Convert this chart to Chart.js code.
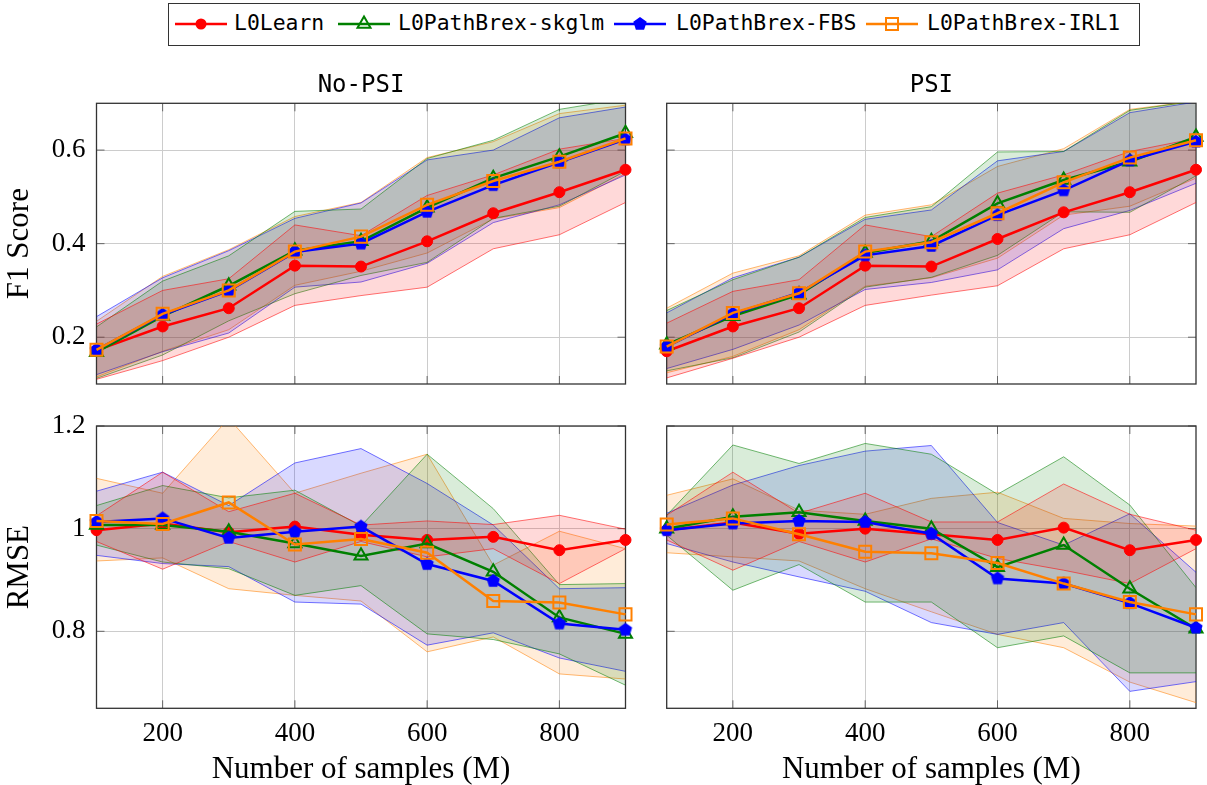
<!DOCTYPE html>
<html>
<head>
<meta charset="utf-8">
<script src="https://cdn.jsdelivr.net/npm/chart.js@4.4.1/dist/chart.umd.min.js"></script>
<style>
  body { margin: 0; background: #fff; width: 1207px; height: 785px; position: relative; overflow: hidden; }
  canvas { position: absolute; }
  #legend { position: absolute; left: 168px; top: 3px; width: 972px; height: 43px; border: 1.5px solid #333; box-sizing: border-box; }
  #legend span { position: absolute; top: 6px; font: 21.4px "DejaVu Sans Mono", monospace; color: #000; }
  #legend svg { position: absolute; top: 10px; }
</style>
</head>
<body>
<div id="legend"></div>
<canvas id="f1NoPsi" width="636" height="340" style="left:0;top:55px"></canvas>
<canvas id="f1Psi" width="637" height="340" style="left:570px;top:55px"></canvas>
<canvas id="rmseNoPsi" width="636" height="390" style="left:0;top:395px"></canvas>
<canvas id="rmsePsi" width="637" height="390" style="left:570px;top:395px"></canvas>
<script>
const samples = [100, 200, 300, 400, 500, 600, 700, 800, 900]
const xTicks = [200, 400, 600, 800]
const f1Ticks = [0.2, 0.4, 0.6]
const rmseTicks = [0.8, 1, 1.2]
const methods = ['L0Learn', 'L0PathBrex-skglm', 'L0PathBrex-FBS', 'L0PathBrex-IRL1']

// F1 score, No-PSI (mean, lower, upper)
const f1NoPsiL0Learn   = [0.172, 0.223, 0.262, 0.353, 0.351, 0.405, 0.465, 0.510, 0.558]
const f1NoPsiL0LearnLo = [0.110, 0.150, 0.200, 0.268, 0.289, 0.307, 0.389, 0.419, 0.488]
const f1NoPsiL0LearnHi = [0.228, 0.300, 0.325, 0.440, 0.417, 0.503, 0.547, 0.602, 0.625]
const f1NoPsiSkglm     = [0.168, 0.245, 0.310, 0.385, 0.405, 0.477, 0.540, 0.586, 0.636]
const f1NoPsiSkglmLo   = [0.112, 0.162, 0.235, 0.293, 0.332, 0.360, 0.454, 0.480, 0.555]
const f1NoPsiSkglmHi   = [0.222, 0.320, 0.374, 0.469, 0.474, 0.582, 0.621, 0.687, 0.710]
const f1NoPsiFbs       = [0.173, 0.248, 0.299, 0.382, 0.400, 0.468, 0.525, 0.574, 0.623]
const f1NoPsiFbsLo     = [0.120, 0.169, 0.209, 0.307, 0.318, 0.358, 0.445, 0.483, 0.547]
const f1NoPsiFbsHi     = [0.244, 0.327, 0.385, 0.454, 0.487, 0.579, 0.600, 0.669, 0.692]
const f1NoPsiIrl1      = [0.173, 0.250, 0.300, 0.383, 0.415, 0.483, 0.534, 0.575, 0.625]
const f1NoPsiIrl1Lo    = [0.115, 0.170, 0.216, 0.311, 0.341, 0.380, 0.453, 0.477, 0.550]
const f1NoPsiIrl1Hi    = [0.234, 0.330, 0.387, 0.458, 0.488, 0.584, 0.618, 0.678, 0.696]

// F1 score, PSI
const f1PsiL0Learn   = [0.170, 0.223, 0.262, 0.353, 0.351, 0.410, 0.467, 0.510, 0.558]
const f1PsiL0LearnLo = [0.113, 0.155, 0.200, 0.268, 0.290, 0.310, 0.389, 0.419, 0.488]
const f1PsiL0LearnHi = [0.230, 0.298, 0.323, 0.440, 0.415, 0.508, 0.547, 0.597, 0.625]
const f1PsiSkglm     = [0.184, 0.245, 0.291, 0.380, 0.405, 0.486, 0.536, 0.575, 0.628]
const f1PsiSkglmLo   = [0.128, 0.156, 0.211, 0.307, 0.328, 0.375, 0.468, 0.467, 0.545]
const f1PsiSkglmHi   = [0.257, 0.323, 0.371, 0.456, 0.479, 0.596, 0.597, 0.685, 0.705]
const f1PsiFbs       = [0.180, 0.250, 0.295, 0.375, 0.395, 0.461, 0.514, 0.578, 0.618]
const f1PsiFbsLo     = [0.133, 0.174, 0.226, 0.302, 0.317, 0.344, 0.432, 0.471, 0.529]
const f1PsiFbsHi     = [0.252, 0.327, 0.371, 0.452, 0.472, 0.577, 0.597, 0.680, 0.703]
const f1PsiIrl1      = [0.180, 0.252, 0.294, 0.383, 0.403, 0.465, 0.531, 0.584, 0.621]
const f1PsiIrl1Lo    = [0.124, 0.159, 0.216, 0.309, 0.327, 0.369, 0.461, 0.480, 0.540]
const f1PsiIrl1Hi    = [0.262, 0.337, 0.374, 0.461, 0.483, 0.565, 0.603, 0.687, 0.705]

// RMSE, No-PSI
const rmseNoPsiL0Learn   = [0.997, 1.010, 0.993, 1.004, 0.988, 0.978, 0.984, 0.958, 0.978]
const rmseNoPsiL0LearnLo = [0.975, 0.921, 0.975, 0.935, 0.975, 0.945, 0.961, 0.893, 0.961]
const rmseNoPsiL0LearnHi = [1.025, 1.110, 1.033, 1.069, 1.007, 1.015, 1.008, 1.026, 0.999]
const rmseNoPsiSkglm     = [1.007, 1.007, 0.994, 0.971, 0.947, 0.971, 0.916, 0.827, 0.795]
const rmseNoPsiSkglmLo   = [0.968, 0.935, 0.922, 0.870, 0.889, 0.795, 0.784, 0.756, 0.695]
const rmseNoPsiSkglmHi   = [1.045, 1.084, 1.060, 1.075, 1.005, 1.145, 1.039, 0.891, 0.893]
const rmseNoPsiFbs       = [1.013, 1.020, 0.982, 0.994, 1.004, 0.931, 0.898, 0.815, 0.803]
const rmseNoPsiFbsLo     = [0.948, 0.932, 0.926, 0.857, 0.853, 0.773, 0.797, 0.748, 0.722]
const rmseNoPsiFbsHi     = [1.073, 1.110, 1.045, 1.128, 1.156, 1.088, 1.007, 0.883, 0.885]
const rmseNoPsiIrl1      = [1.015, 1.009, 1.051, 0.969, 0.980, 0.953, 0.859, 0.856, 0.833]
const rmseNoPsiIrl1Lo    = [0.937, 0.943, 0.883, 0.870, 0.859, 0.760, 0.789, 0.717, 0.707]
const rmseNoPsiIrl1Hi    = [1.098, 1.069, 1.215, 1.069, 1.108, 1.145, 0.929, 0.995, 0.961]

// RMSE, PSI
const rmsePsiL0Learn   = [0.997, 1.012, 0.990, 1.000, 0.989, 0.978, 1.002, 0.958, 0.978]
const rmsePsiL0LearnLo = [0.978, 0.919, 0.975, 0.935, 0.980, 0.942, 0.919, 0.893, 0.961]
const rmsePsiL0LearnHi = [1.026, 1.110, 1.030, 1.069, 1.013, 1.013, 1.087, 1.028, 0.997]
const rmsePsiSkglm     = [1.000, 1.023, 1.032, 1.015, 1.000, 0.925, 0.968, 0.883, 0.805]
const rmsePsiSkglmLo   = [0.987, 0.880, 0.930, 0.857, 0.857, 0.768, 0.791, 0.719, 0.719]
const rmsePsiSkglmHi   = [1.026, 1.163, 1.127, 1.166, 1.145, 1.067, 1.140, 1.046, 0.885]
const rmsePsiFbs       = [0.997, 1.010, 1.015, 1.013, 0.990, 0.903, 0.893, 0.855, 0.807]
const rmsePsiFbsLo     = [0.971, 0.935, 0.906, 0.878, 0.817, 0.794, 0.817, 0.683, 0.702]
const rmsePsiFbsHi     = [1.030, 1.085, 1.123, 1.151, 1.162, 1.012, 0.968, 1.029, 0.915]
const rmsePsiIrl1      = [1.008, 1.020, 0.989, 0.955, 0.952, 0.933, 0.893, 0.857, 0.833]
const rmsePsiIrl1Lo    = [0.953, 0.945, 0.937, 0.883, 0.838, 0.794, 0.768, 0.701, 0.661]
const rmsePsiIrl1Hi    = [1.065, 1.097, 1.036, 1.028, 1.059, 1.071, 1.020, 1.010, 1.005]

const colors = ['255,0,0', '0,128,0', '0,0,255', '255,128,0']

// blue pentagon marker (no built-in pentagon point style)
function pentagon(r, color) {
  const c = document.createElement('canvas')
  c.width = c.height = 2 * r + 2
  const ctx = c.getContext('2d')
  ctx.beginPath()
  for (let i = 0; i < 5; i++) {
    const a = -Math.PI / 2 + i * 2 * Math.PI / 5
    ctx.lineTo(r + 1 + r * Math.cos(a), r + 1 + r * Math.sin(a))
  }
  ctx.closePath()
  ctx.fillStyle = color
  ctx.fill()
  return c
}

const markers = [
  { pointStyle: 'circle', pointRadius: 5.5, pointBackgroundColor: 'rgb(255,0,0)', pointBorderWidth: 1 },
  { pointStyle: 'triangle', pointRadius: 7.5, pointBackgroundColor: 'rgba(0,0,0,0)', pointBorderWidth: 2 },
  { pointStyle: pentagon(7, 'rgb(0,0,255)'), pointRadius: 7 },
  { pointStyle: 'rect', pointRadius: 8.5, pointBackgroundColor: 'rgba(0,0,0,0)', pointBorderWidth: 2 }
]

const pts = vals => samples.map((x, j) => ({ x, y: vals[j] }))

function buildDatasets(means, los, his) {
  const ds = []
  means.forEach((m, i) => {
    ds.push({ data: pts(los[i]), borderColor: `rgba(${colors[i]},0.55)`, borderWidth: 1, pointRadius: 0, fill: false, order: 10 + i })
    ds.push({ data: pts(his[i]), borderColor: `rgba(${colors[i]},0.55)`, backgroundColor: `rgba(${colors[i]},0.15)`, borderWidth: 1, pointRadius: 0, fill: '-1', order: 10 + i })
  })
  means.forEach((m, i) => {
    ds.push({ label: methods[i], data: pts(m), borderColor: `rgb(${colors[i]})`, pointBorderColor: `rgb(${colors[i]})`, borderWidth: 2.5, fill: false, clip: false, order: 4 - i, ...markers[i] })
  })
  return ds
}

// box around the plot area plus small inner tick marks
const framePlugin = {
  id: 'frame',
  beforeDatasetsDraw(chart) {
    const { ctx, chartArea: a, scales: { x, y } } = chart
    ctx.save()
    ctx.strokeStyle = '#666'
    ctx.lineWidth = 1
    ctx.beginPath()
    x.ticks.forEach(t => {
      const px = x.getPixelForValue(t.value)
      ctx.moveTo(px, a.top); ctx.lineTo(px, a.top + 8)
      ctx.moveTo(px, a.bottom); ctx.lineTo(px, a.bottom - 8)
    })
    y.ticks.forEach(t => {
      const py = y.getPixelForValue(t.value)
      ctx.moveTo(a.left, py); ctx.lineTo(a.left + 8, py)
      ctx.moveTo(a.right, py); ctx.lineTo(a.right - 8, py)
    })
    ctx.stroke()
    ctx.strokeStyle = '#333'
    ctx.lineWidth = 1.3
    ctx.strokeRect(a.left, a.top, a.width, a.height)
    ctx.restore()
  }
}

const tickFont = { family: 'Liberation Serif', size: 27 }
const labelFont = { family: 'Liberation Serif', size: 31, lineHeight: 1 }

function drawPanel(id, o) {
  new Chart(id, {
    type: 'line',
    data: { datasets: buildDatasets(o.means, o.los, o.his) },
    options: {
      responsive: false,
      animation: false,
      layout: { padding: { top: o.padTop, right: o.padRight, left: 0, bottom: 0 } },
      plugins: {
        legend: { display: false },
        tooltip: { enabled: false },
        title: {
          display: !!o.title, text: o.title, fullSize: false, color: '#000',
          font: { family: 'DejaVu Sans Mono', size: 24, weight: 'normal' },
          padding: { top: 16, bottom: 3.5 }
        }
      },
      scales: {
        x: {
          type: 'linear', min: 100, max: 900,
          afterBuildTicks: s => { s.ticks = xTicks.map(value => ({ value })) },
          afterFit: s => { s.height = o.xh; s.paddingLeft = 0; s.paddingRight = 0 },
          grid: { color: '#cccccc', drawTicks: false },
          border: { display: false },
          ticks: { display: o.xLabels, padding: 9, font: tickFont, color: '#000', maxRotation: 0, callback: v => String(v) },
          title: { display: o.xLabels, text: 'Number of samples (M)', font: labelFont, color: '#000', padding: 0 }
        },
        y: {
          min: o.yMin, max: o.yMax,
          afterBuildTicks: s => { s.ticks = o.yTicks.map(value => ({ value })) },
          afterFit: s => { s.width = o.yw; s.paddingTop = 0; s.paddingBottom = 0 },
          grid: { color: '#cccccc', drawTicks: false },
          border: { display: false },
          ticks: { display: !!o.yTitle, padding: 11, font: tickFont, color: '#000', callback: v => String(v) },
          title: { display: !!o.yTitle, text: o.yTitle, font: labelFont, color: '#000', padding: { top: 4, bottom: 0 } }
        }
      }
    },
    plugins: [framePlugin]
  })
}

drawPanel('f1NoPsi', {
  means: [f1NoPsiL0Learn, f1NoPsiSkglm, f1NoPsiFbs, f1NoPsiIrl1],
  los: [f1NoPsiL0LearnLo, f1NoPsiSkglmLo, f1NoPsiFbsLo, f1NoPsiIrl1Lo],
  his: [f1NoPsiL0LearnHi, f1NoPsiSkglmHi, f1NoPsiFbsHi, f1NoPsiIrl1Hi],
  title: 'No-PSI', yTitle: 'F1 Score', yMin: 0.1, yMax: 0.7, yTicks: f1Ticks,
  padTop: 0, padRight: 10, yw: 96.5, xh: 11, xLabels: false
})
drawPanel('f1Psi', {
  means: [f1PsiL0Learn, f1PsiSkglm, f1PsiFbs, f1PsiIrl1],
  los: [f1PsiL0LearnLo, f1PsiSkglmLo, f1PsiFbsLo, f1PsiIrl1Lo],
  his: [f1PsiL0LearnHi, f1PsiSkglmHi, f1PsiFbsHi, f1PsiIrl1Hi],
  title: 'PSI', yTitle: '', yMin: 0.1, yMax: 0.7, yTicks: f1Ticks,
  padTop: 0, padRight: 11, yw: 96.7, xh: 11, xLabels: false
})
drawPanel('rmseNoPsi', {
  means: [rmseNoPsiL0Learn, rmseNoPsiSkglm, rmseNoPsiFbs, rmseNoPsiIrl1],
  los: [rmseNoPsiL0LearnLo, rmseNoPsiSkglmLo, rmseNoPsiFbsLo, rmseNoPsiIrl1Lo],
  his: [rmseNoPsiL0LearnHi, rmseNoPsiSkglmHi, rmseNoPsiFbsHi, rmseNoPsiIrl1Hi],
  title: '', yTitle: 'RMSE', yMin: 0.65, yMax: 1.2, yTicks: rmseTicks,
  padTop: 31, padRight: 10, yw: 96.5, xh: 76.7, xLabels: true
})
drawPanel('rmsePsi', {
  means: [rmsePsiL0Learn, rmsePsiSkglm, rmsePsiFbs, rmsePsiIrl1],
  los: [rmsePsiL0LearnLo, rmsePsiSkglmLo, rmsePsiFbsLo, rmsePsiIrl1Lo],
  his: [rmsePsiL0LearnHi, rmsePsiSkglmHi, rmsePsiFbsHi, rmsePsiIrl1Hi],
  title: '', yTitle: '', yMin: 0.65, yMax: 1.2, yTicks: rmseTicks,
  padTop: 31, padRight: 11, yw: 96.7, xh: 76.7, xLabels: true
})

// shared legend on top
const legendIcons = [
  '<circle cx="26" cy="10" r="5.5" fill="rgb(255,0,0)"/>',
  '<polygon points="26,2.5 32.5,13.75 19.5,13.75" fill="none" stroke="rgb(0,128,0)" stroke-width="2"/>',
  '<polygon points="26,3 32.7,7.8 30.1,15.7 21.9,15.7 19.3,7.8" fill="rgb(0,0,255)"/>',
  '<rect x="20" y="4" width="12" height="12" fill="none" stroke="rgb(255,128,0)" stroke-width="2"/>'
]
const legendX = [[6, 65], [169, 229], [445, 507], [697, 758]]
const legend = document.getElementById('legend')
methods.forEach((name, i) => {
  legend.insertAdjacentHTML('beforeend',
    `<svg width="52" height="20" style="left:${legendX[i][0]}px"><line x1="0" y1="10" x2="52" y2="10" stroke="rgb(${colors[i]})" stroke-width="2.5"/>${legendIcons[i]}</svg>` +
    `<span style="left:${legendX[i][1]}px">${name}</span>`)
})
</script>
</body>
</html>
